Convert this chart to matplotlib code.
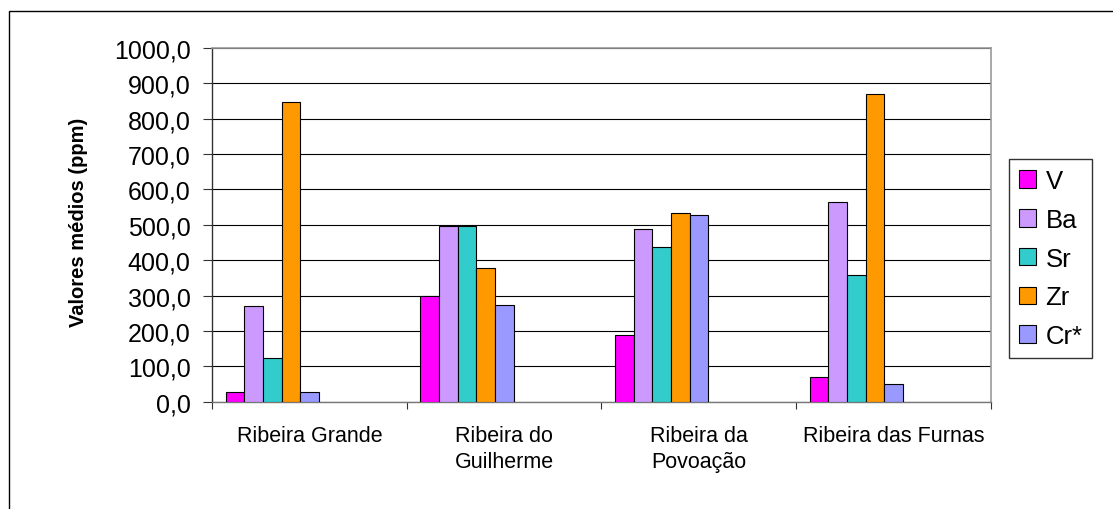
import numpy as np
import matplotlib
matplotlib.use('Agg')
import matplotlib.pyplot as plt
from matplotlib.patches import Rectangle
from matplotlib.ticker import FixedLocator, FuncFormatter

plt.rcParams['font.family'] = ['Liberation Sans', 'DejaVu Sans']

# Data (ppm)
categories = ['Ribeira Grande', 'Ribeira do\nGuilherme', 'Ribeira da\nPovoação', 'Ribeira das Furnas']
series = ['V', 'Ba', 'Sr', 'Zr', 'Cr*']
V = [27, 298, 188, 69]
Ba = [270, 498, 489, 564]
Sr = [124, 498, 437, 359]
Zr = [846, 379, 533, 870]
Cr = [27, 273, 528, 49]
colors = ['#FF00FF', '#CC99FF', '#33CCCC', '#FF9900', '#9999FF']
yticks = np.arange(0, 1001, 100)

W, H = 1113, 510
fig = plt.figure(figsize=(W / 100, H / 100), dpi=100)
ax = fig.add_axes([212 / W, 1 - 402.7 / H, (990.7 - 212) / W, 353.7 / H])

# outer chart border (only left/top visible in the picture)
fig.patches.append(Rectangle((9 / W, -0.2), 1.5, 1 - 12 / H + 0.2, transform=fig.transFigure,
                             fill=False, edgecolor='black', linewidth=1.0))

bw = 0.0959
off = 0.0706
x = np.arange(len(categories))
handles = []
for j, (vals, c, name) in enumerate(zip([V, Ba, Sr, Zr, Cr], colors, series)):
    b = ax.bar(x + off + j * bw, vals, width=bw, align='edge', color=c,
               edgecolor='black', linewidth=0.8, label=name, zorder=3)
    handles.append(b)

ax.set_xlim(0, len(categories))
ax.set_ylim(0, 1000)
ax.set_yticks(yticks)
ax.yaxis.set_major_formatter(FuncFormatter(lambda v, p: f'{v:.1f}'.replace('.', ',')))
ax.yaxis.grid(True, color='black', linewidth=0.8, zorder=0)
ax.set_axisbelow(True)

ax.xaxis.set_major_locator(FixedLocator(np.arange(len(categories) + 1)))
ax.xaxis.set_major_formatter(FuncFormatter(lambda v, p: ''))
ax.set_xticks(x + 0.5, minor=True)
ax.set_xticklabels(categories, minor=True, fontsize=15.5, linespacing=1.3)
ax.tick_params(axis='x', which='minor', length=0, pad=17)
ax.tick_params(axis='x', which='major', length=5, width=0.8, color='#333333')
ax.tick_params(axis='y', length=6.5, width=0.8, color='#333333', labelsize=18, pad=9)

for s in ['top', 'right']:
    ax.spines[s].set_color('#999999')
    ax.spines[s].set_linewidth(1.2)
ax.spines['left'].set_color('#333333')
ax.spines['left'].set_linewidth(1.0)
ax.spines['bottom'].set_color('#777777')
ax.spines['bottom'].set_linewidth(1.0)

fig.text(79 / W, 1 - 222 / H, 'Valores médios (ppm)', rotation=90, fontsize=14.5,
         fontweight='bold', ha='center', va='center')

leg = fig.legend(handles=handles, loc='upper left', bbox_to_anchor=(1009 / W, 1 - 160 / H),
                 bbox_transform=fig.transFigure, fontsize=18.5, frameon=True, fancybox=False,
                 edgecolor='black', handlelength=0.69, handleheight=0.69, handletextpad=0.35,
                 labelspacing=0.58, borderpad=0.38, borderaxespad=0)
leg.get_frame().set_linewidth(1.0)

fig.savefig('out.png', dpi=100)
